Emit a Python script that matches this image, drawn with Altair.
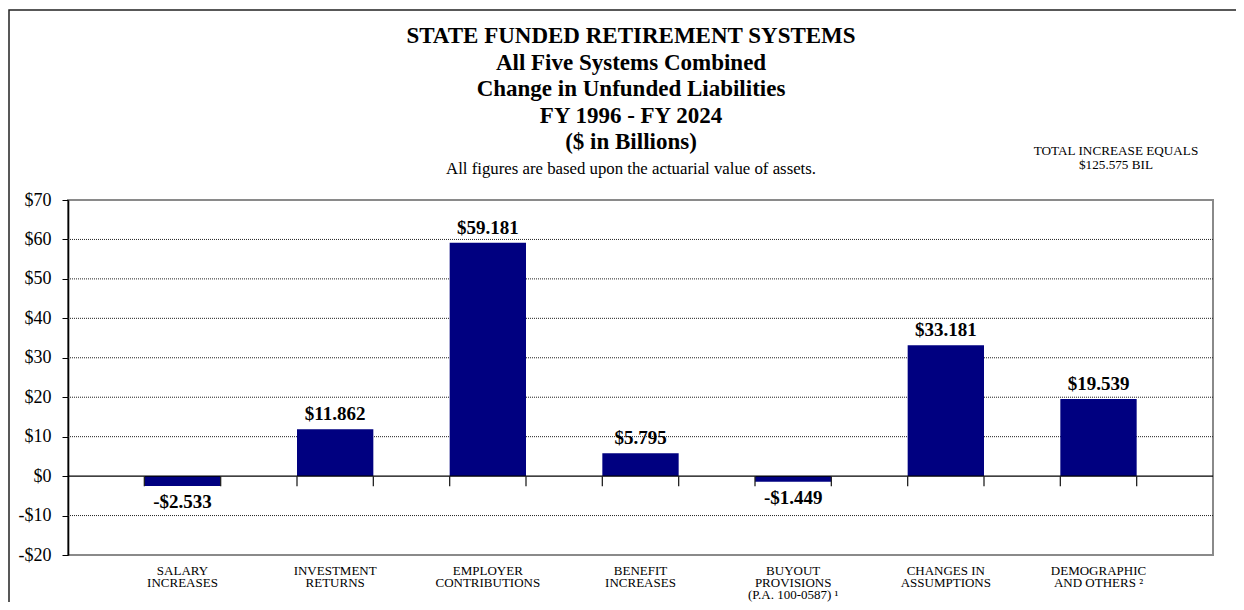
import altair as alt
import pandas as pd

# ---- data ----
categories = [
    "SALARY\nINCREASES",
    "INVESTMENT\nRETURNS",
    "EMPLOYER\nCONTRIBUTIONS",
    "BENEFIT\nINCREASES",
    "BUYOUT\nPROVISIONS\n(P.A. 100-0587) \u00b9",
    "CHANGES IN\nASSUMPTIONS",
    "DEMOGRAPHIC\nAND OTHERS \u00b2",
]
values = [-2.533, 11.862, 59.181, 5.795, -1.449, 33.181, 19.539]
value_labels = ["-$2.533", "$11.862", "$59.181", "$5.795", "-$1.449", "$33.181", "$19.539"]
y_ticks = [-20, -10, 0, 10, 20, 30, 40, 50, 60, 70]
grid_values = [-10, 10, 20, 30, 40, 50, 60]
title_lines = [
    "STATE FUNDED RETIREMENT SYSTEMS",
    "All Five Systems Combined",
    "Change in Unfunded Liabilities",
    "FY 1996 - FY 2024",
    "($ in Billions)",
]
subtitle_text = "All figures are based upon the actuarial value of assets."
note_text = "TOTAL INCREASE EQUALS\n$125.575 BIL"

FONT = "Liberation Serif"
NAVY = "#000080"

df = pd.DataFrame({"cat": categories, "value": values, "label": value_labels})
grid_df = pd.DataFrame({"value": grid_values})
one = pd.DataFrame(
    {"note": [note_text], "title": ["\n".join(title_lines)], "sub": [subtitle_text], "value": [0]}
)

xscale = alt.Scale(domain=categories, paddingInner=0.5, paddingOuter=0.5)
yscale = alt.Scale(domain=[-20, 70], nice=False, zero=False)

x_axis = alt.Axis(
    title=None,
    labelAngle=0,
    labelExpr="split(datum.label, '\\n')",
    labelFont=FONT,
    labelFontSize=13,
    labelLineHeight=12,
    labelColor="black",
    labelPadding=9,
    labelBaseline="top",
    labelOverlap=False,
    ticks=False,
    domain=False,
    grid=False,
)
y_axis = alt.Axis(
    title=None,
    values=y_ticks,
    labelExpr="datum.value < 0 ? '-$' + abs(datum.value) : '$' + datum.value",
    labelFont=FONT,
    labelFontSize=18,
    labelColor="black",
    labelPadding=11,
    labelOverlap=False,
    labelFlush=False,
    tickSize=6,
    tickColor="black",
    domainColor="black",
    domainWidth=1.6,
    grid=False,
)

xs = alt.X("cat:N", scale=xscale, sort=categories, axis=x_axis)
ys = alt.Y("value:Q", scale=yscale, axis=y_axis)

base = alt.Chart(df)

grid = alt.Chart(grid_df).mark_rule(color="#222222", strokeWidth=1, strokeDash=[1, 1]).encode(y=ys)

bars = base.mark_bar(color=NAVY).encode(x=xs, y=ys, y2=alt.datum(0))

zero = alt.Chart(one).mark_rule(color="black", strokeWidth=1.3).encode(y=ys)

ticks_left = base.mark_rule(color="#222222", strokeWidth=1.3).encode(
    x=alt.X("cat:N", scale=xscale, sort=categories, bandPosition=0, axis=x_axis),
    y=alt.YDatum(0, scale=yscale, axis=y_axis),
    y2=alt.datum(-2.6),
)
ticks_right = base.mark_rule(color="#222222", strokeWidth=1.3).encode(
    x=alt.X("cat:N", scale=xscale, sort=categories, bandPosition=1, axis=x_axis),
    y=alt.YDatum(0, scale=yscale, axis=y_axis),
    y2=alt.datum(-2.6),
)

pos_labels = base.transform_filter("datum.value >= 0").mark_text(
    font=FONT, fontSize=19, fontWeight="bold", baseline="alphabetic", dy=-9, color="black"
).encode(x=xs, y=ys, text="label:N")

neg_labels = base.transform_filter("datum.value < 0").mark_text(
    font=FONT, fontSize=19, fontWeight="bold", baseline="top", dy=7, color="black"
).encode(x=xs, y=ys, text="label:N")

title = alt.Chart(one).mark_text(
    font=FONT, fontSize=23, fontWeight="bold", align="center", baseline="top",
    lineBreak="\n", lineHeight=26.5, color="black"
).encode(x=alt.value(563), y=alt.value(-175), text="title:N")

subtitle = alt.Chart(one).mark_text(
    font=FONT, fontSize=16.8, align="center", baseline="middle", color="black"
).encode(x=alt.value(563), y=alt.value(-31), text="sub:N")

note = alt.Chart(one).mark_text(
    font=FONT, fontSize=13.2, align="center", baseline="middle", lineBreak="\n", lineHeight=14, color="black"
).encode(x=alt.value(1048), y=alt.value(-49), text="note:N")

frame = alt.Chart(one).mark_rect(fill=None, stroke="#222222", strokeWidth=1.5).encode(
    x=alt.value(-59), x2=alt.value(1250), y=alt.value(-190), y2=alt.value(430)
)

chart = (
    alt.layer(frame, grid, bars, zero, ticks_left, ticks_right, pos_labels, neg_labels,
              title, subtitle, note)
    .properties(
        width=1145,
        height=355,
        autosize=alt.AutoSizeParams(type="none"),
        padding={"left": 60, "top": 192, "right": 23, "bottom": 47},
    )
    .configure_view(stroke="#8a8a8a", strokeWidth=2)
)

chart.save("out.html", embed_options={"renderer": "svg", "actions": False})
